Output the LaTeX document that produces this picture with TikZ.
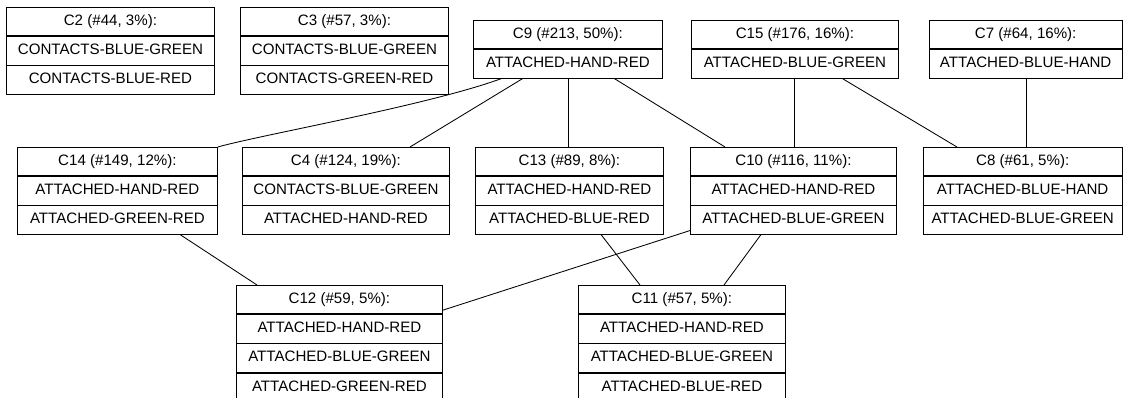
\documentclass[tikz,border=0pt]{standalone}
\usepackage{fontspec}
\setmainfont{Liberation Sans}
\usetikzlibrary{calc}
\tikzset{
  row/.style={draw=black, line width=0.85pt, inner sep=0pt, minimum height=28.33pt,
    text height=10.9pt, text depth=3pt, align=center,
    font=\fontsize{15.1}{16}\selectfont},
  edge/.style={draw=black, line width=0.85pt}
}
\begin{document}
\begin{tikzpicture}[x=1pt,y=-1pt]
\useasboundingbox (0,0) rectangle (1123,398);
% C2
\node[row, minimum width=208pt, anchor=north west] (c2h) at (6,7) {C2 (\#44, 3\%):};
\node[row, minimum width=208pt, anchor=north] (c2a) at (c2h.south) {CONTACTS-BLUE-GREEN};
\node[row, minimum width=208pt, anchor=north] (c2b) at (c2a.south) {CONTACTS-BLUE-RED};
% C3
\node[row, minimum width=208pt, anchor=north west] (c3h) at (240,7) {C3 (\#57, 3\%):};
\node[row, minimum width=208pt, anchor=north] (c3a) at (c3h.south) {CONTACTS-BLUE-GREEN};
\node[row, minimum width=208pt, anchor=north] (c3b) at (c3a.south) {CONTACTS-GREEN-RED};
% C9
\node[row, minimum width=189pt, anchor=north west] (c9h) at (473,20) {C9 (\#213, 50\%):};
\node[row, minimum width=189pt, anchor=north] (c9b) at (c9h.south) {ATTACHED-HAND-RED};
% C15
\node[row, minimum width=207pt, anchor=north west] (c15h) at (691,20) {C15 (\#176, 16\%):};
\node[row, minimum width=207pt, anchor=north] (c15b) at (c15h.south) {ATTACHED-BLUE-GREEN};
% C7
\node[row, minimum width=192.5pt, anchor=north west] (c7h) at (929,20) {C7 (\#64, 16\%):};
\node[row, minimum width=192.5pt, anchor=north] (c7b) at (c7h.south) {ATTACHED-BLUE-HAND};
% C14
\node[row, minimum width=200pt, anchor=north west] (c14h) at (17,147) {C14 (\#149, 12\%):};
\node[row, minimum width=200pt, anchor=north] (c14a) at (c14h.south) {ATTACHED-HAND-RED};
\node[row, minimum width=200pt, anchor=north] (c14b) at (c14a.south) {ATTACHED-GREEN-RED};
% C4
\node[row, minimum width=207pt, anchor=north west] (c4h) at (242,147) {C4 (\#124, 19\%):};
\node[row, minimum width=207pt, anchor=north] (c4a) at (c4h.south) {CONTACTS-BLUE-GREEN};
\node[row, minimum width=207pt, anchor=north] (c4b) at (c4a.south) {ATTACHED-HAND-RED};
% C13
\node[row, minimum width=188pt, anchor=north west] (c13h) at (475,147) {C13 (\#89, 8\%):};
\node[row, minimum width=188pt, anchor=north] (c13a) at (c13h.south) {ATTACHED-HAND-RED};
\node[row, minimum width=188pt, anchor=north] (c13b) at (c13a.south) {ATTACHED-BLUE-RED};
% C10
\node[row, minimum width=206pt, anchor=north west] (c10h) at (690,147) {C10 (\#116, 11\%):};
\node[row, minimum width=206pt, anchor=north] (c10a) at (c10h.south) {ATTACHED-HAND-RED};
\node[row, minimum width=206pt, anchor=north] (c10b) at (c10a.south) {ATTACHED-BLUE-GREEN};
% C8
\node[row, minimum width=198.5pt, anchor=north west] (c8h) at (923,147) {C8 (\#61, 5\%):};
\node[row, minimum width=198.5pt, anchor=north] (c8a) at (c8h.south) {ATTACHED-BLUE-HAND};
\node[row, minimum width=198.5pt, anchor=north] (c8b) at (c8a.south) {ATTACHED-BLUE-GREEN};
% C12
\node[row, minimum width=206pt, anchor=north west] (c12h) at (236,285) {C12 (\#59, 5\%):};
\node[row, minimum width=206pt, anchor=north] (c12a) at (c12h.south) {ATTACHED-HAND-RED};
\node[row, minimum width=206pt, anchor=north] (c12b) at (c12a.south) {ATTACHED-BLUE-GREEN};
\node[row, minimum width=206pt, anchor=north] (c12c) at (c12b.south) {ATTACHED-GREEN-RED};
% C11
\node[row, minimum width=207pt, anchor=north west] (c11h) at (578,285) {C11 (\#57, 5\%):};
\node[row, minimum width=207pt, anchor=north] (c11a) at (c11h.south) {ATTACHED-HAND-RED};
\node[row, minimum width=207pt, anchor=north] (c11b) at (c11a.south) {ATTACHED-BLUE-GREEN};
\node[row, minimum width=207pt, anchor=north] (c11c) at (c11b.south) {ATTACHED-BLUE-RED};
% edges
\draw[edge] ($(c9b.south west)+(29,0)$) .. controls (430,105) and (260,135) .. (c14h.north east);
\draw[edge] ($(c9b.south west)+(50,0)$) -- ($(c4h.north west)+(168,0)$);
\draw[edge] ($(c9b.south west)+(95,0)$) -- ($(c13h.north west)+(93,0)$);
\draw[edge] ($(c9b.south west)+(141,0)$) -- ($(c10h.north west)+(35,0)$);
\draw[edge] ($(c15b.south west)+(103,0)$) -- ($(c10h.north west)+(104,0)$);
\draw[edge] ($(c15b.south west)+(151,0)$) -- ($(c8h.north west)+(34,0)$);
\draw[edge] ($(c7b.south west)+(97,0)$) -- ($(c8h.north west)+(103,0)$);
\draw[edge] ($(c14b.south west)+(163,0)$) -- ($(c12h.north west)+(21,0)$);
\draw[edge] ($(c10b.south west)+(0,-4)$) -- ($(c12h.south east)+(0,-4)$);
\draw[edge] ($(c13b.south west)+(126,0)$) -- ($(c11h.north west)+(62,0)$);
\draw[edge] ($(c10b.south west)+(71,0)$) -- ($(c11h.north west)+(146,0)$);
\end{tikzpicture}
\end{document}
